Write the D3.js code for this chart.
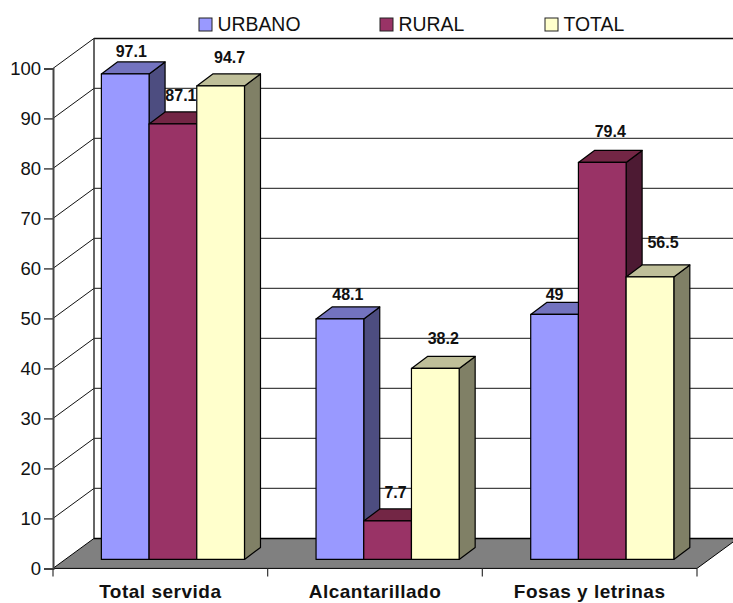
<!DOCTYPE html>
<html>
<head>
<meta charset="utf-8">
<script src="https://cdn.jsdelivr.net/npm/d3@7/dist/d3.min.js"></script>
<style>
  html, body { margin: 0; padding: 0; background: #fff; }
  svg { display: block; font-family: "Liberation Sans", Arial, sans-serif; }
</style>
</head>
<body>
<svg id="chart" width="733" height="603"></svg>
<script>
const categories = ["Total servida", "Alcantarillado", "Fosas y letrinas"];
const seriesNames = ["URBANO", "RURAL", "TOTAL"];
const urbano = [97.1, 48.1, 49];
const rural = [87.1, 7.7, 79.4];
const total = [94.7, 38.2, 56.5];
const yTicks = [0, 10, 20, 30, 40, 50, 60, 70, 80, 90, 100];
const seriesValues = [urbano, rural, total];

const frontColors = ["#9999ff", "#993366", "#ffffcc"];
const topColors = ["#7373bf", "#732645", "#bfbf99"];
const sideColors = ["#4d4d80", "#4d1a33", "#808066"];

const svg = d3.select("#chart");

// Oblique projection: the floor recedes up and to the right.
const wall = { dx: 41, dy: -30 };
const barFront = { dx: 12.6, dy: -9 };
const barBack = { dx: 28.6, dy: -21 };

const y = d3.scaleLinear().domain([0, 100]).range([568.4, 68.4]);
const x = d3.scaleBand().domain(categories).range([53, 697]);
const inner = d3.scaleBand().domain(seriesNames).range([0, x.bandwidth()])
  .paddingInner(0).paddingOuter(0.75);

const poly = pts => pts.map(p => p.join(",")).join(" ");

// Back wall, left wall and gridlines
const grid = svg.append("g");
yTicks.filter(t => t > 0).forEach(t => {
  grid.append("line")
    .attr("x1", 53).attr("y1", y(t))
    .attr("x2", 53 + wall.dx).attr("y2", y(t) + wall.dy)
    .attr("stroke", "#111").attr("stroke-width", 1);
  grid.append("line")
    .attr("x1", 53 + wall.dx).attr("y1", y(t) + wall.dy)
    .attr("x2", 733).attr("y2", y(t) + wall.dy)
    .attr("stroke", t === 100 ? "#111" : "#444").attr("stroke-width", t === 100 ? 1.5 : 1.2);
});
grid.append("line")
  .attr("x1", 53 + wall.dx).attr("y1", y(100) + wall.dy)
  .attr("x2", 53 + wall.dx).attr("y2", y(0) + wall.dy)
  .attr("stroke", "#333").attr("stroke-width", 1.5);

// Floor
svg.append("polygon")
  .attr("points", poly([
    [53, y(0)], [53 + wall.dx, y(0) + wall.dy],
    [697 + wall.dx, y(0) + wall.dy], [697, y(0)]
  ]))
  .attr("fill", "#808080");
svg.append("line")
  .attr("x1", 53 + wall.dx).attr("y1", y(0) + wall.dy)
  .attr("x2", 733).attr("y2", y(0) + wall.dy)
  .attr("stroke", "#000").attr("stroke-width", 1.5);
svg.append("polyline")
  .attr("points", poly([[53 + wall.dx, y(0) + wall.dy], [53, y(0)], [697, y(0)], [697 + wall.dx, y(0) + wall.dy]]))
  .attr("fill", "none").attr("stroke", "#000").attr("stroke-width", 1);

// Axes
const yAxis = d3.axisLeft(y).tickValues(yTicks).tickSize(9).tickPadding(3);
const gy = svg.append("g").attr("transform", "translate(53,0)").call(yAxis);
gy.select(".domain").attr("stroke", "#444").attr("stroke-width", 2);
gy.selectAll(".tick line").attr("stroke", "#444").attr("stroke-width", 1.5);
gy.selectAll("text").attr("font-size", 18.5).attr("font-family", "Liberation Sans").attr("fill", "#111");

const xAxis = d3.axisBottom(x).tickSize(0).tickPadding(16.5);
const gx = svg.append("g").attr("transform", `translate(0,${y(0)})`).call(xAxis);
gx.select(".domain").remove();
gx.selectAll("text").attr("font-size", 19).attr("font-weight", "bold")
  .attr("letter-spacing", 0.5)
  .attr("font-family", "Liberation Sans").attr("fill", "#111");
svg.append("g").selectAll("line").data(x.domain().map(c => x(c)).concat([697])).join("line")
  .attr("x1", d => d).attr("x2", d => d)
  .attr("y1", y(0)).attr("y2", y(0) + 8)
  .attr("stroke", "#333").attr("stroke-width", 1.2);

// Bars, drawn left to right so each one overlaps its neighbour's side face
const baseline = y(0);
const unit = y(0) - y(1);
const bars = svg.append("g").attr("stroke", "#000").attr("stroke-width", 1.2).attr("stroke-linejoin", "round");
categories.forEach((cat, ci) => {
  seriesNames.forEach((name, si) => {
    const v = seriesValues[si][ci];
    const x0 = x(cat) + inner(name) + barFront.dx;
    const x1 = x0 + inner.bandwidth();
    const yb = baseline + barFront.dy;
    const yt = yb - v * unit;
    const ox = barBack.dx - barFront.dx;
    const oy = barBack.dy - barFront.dy;
    bars.append("polygon").attr("fill", sideColors[si])
      .attr("points", poly([[x1, yb], [x1 + ox, yb + oy], [x1 + ox, yt + oy], [x1, yt]]));
    bars.append("polygon").attr("fill", topColors[si])
      .attr("points", poly([[x0, yt], [x0 + ox, yt + oy], [x1 + ox, yt + oy], [x1, yt]]));
    bars.append("rect").attr("fill", frontColors[si])
      .attr("x", x0).attr("y", yt).attr("width", x1 - x0).attr("height", yb - yt);
  });
});

// Value labels sit above each bar top, nudged by hand where neighbours crowd them
const labelNudgeX = [[-2, 0, 1], [0, 0, 0], [-8, 0, 5]];
const labelNudgeY = [[6, 0, 0], [4, 0, -2], [8, -3, -6]];
const labels = svg.append("g").attr("font-size", 16).attr("font-weight", "bold")
  .attr("text-anchor", "middle").attr("fill", "#111");
categories.forEach((cat, ci) => {
  seriesNames.forEach((name, si) => {
    const v = seriesValues[si][ci];
    const cx = x(cat) + inner(name) + barFront.dx + inner.bandwidth() / 2 + 8;
    const top = baseline + barFront.dy - v * unit + barBack.dy - barFront.dy;
    labels.append("text")
      .attr("x", cx + labelNudgeX[ci][si])
      .attr("y", top - 10.5 + labelNudgeY[ci][si])
      .text(String(v));
  });
});

// Legend
const legendSwatchX = [199, 380, 545];
const legend = svg.append("g");
seriesNames.forEach((name, i) => {
  legend.append("rect")
    .attr("x", legendSwatchX[i]).attr("y", 18).attr("width", 13).attr("height", 13)
    .attr("fill", frontColors[i]).attr("stroke", "#222").attr("stroke-width", 1);
  legend.append("text")
    .attr("x", legendSwatchX[i] + 18.5).attr("y", 31)
    .attr("font-size", 19.4).attr("fill", "#111").text(name);
});
</script>
</body>
</html>
